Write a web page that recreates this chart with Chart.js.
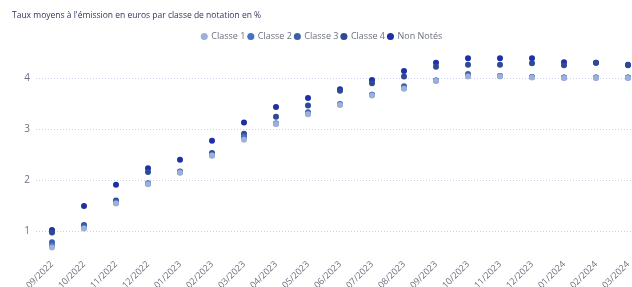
<!DOCTYPE html>
<html><head><meta charset="utf-8">
<script src="https://cdn.jsdelivr.net/npm/chart.js@4/dist/chart.umd.min.js"></script>
<style>
html,body{margin:0;padding:0;background:#fff;overflow:hidden;width:632px;height:287px;}
#wrap{position:relative;width:660px;height:287px;}
</style></head>
<body><div id="wrap"><canvas id="c" width="660" height="287"></canvas></div>
<script>
const categories = ["09/2022","10/2022","11/2022","12/2022","01/2023","02/2023","03/2023","04/2023","05/2023","06/2023","07/2023","08/2023","09/2023","10/2023","11/2023","12/2023","01/2024","02/2024","03/2024"];
const classe1 = [0.68,1.05,1.54,1.92,2.15,2.48,2.79,3.10,3.29,3.47,3.66,3.79,3.94,4.03,4.03,4.01,4.00,4.00,4.00];
const classe2 = [0.72,1.06,1.55,1.93,2.15,2.48,2.84,3.11,3.30,3.48,3.67,3.80,3.95,4.04,4.04,4.02,4.01,4.01,4.01];
const classe3 = [0.78,1.10,1.57,1.94,2.16,2.50,2.86,3.11,3.33,3.49,3.67,3.84,3.95,4.08,4.04,4.02,4.01,4.01,4.01];
const classe4 = [0.97,1.12,1.60,2.16,2.17,2.53,2.91,3.24,3.46,3.75,3.90,4.03,4.22,4.26,4.26,4.29,4.25,4.30,4.25];
const nonNotes = [1.02,1.49,1.91,2.23,2.40,2.77,3.13,3.43,3.61,3.78,3.96,4.14,4.30,4.39,4.39,4.39,4.31,4.30,4.26];
const seriesNames = ["Classe 1","Classe 2","Classe 3","Classe 4","Non Notés"];
const yTicks = [1,2,3,4];

const colors = ["#9fb0d8","#4272c4","#3a5fae","#2c4a96","#1f2fa8"];
const seriesData = [classe1,classe2,classe3,classe4,nonNotes];

const titlePlugin = {
  id:'titleText',
  afterDraw(chart){
    const ctx = chart.ctx;
    ctx.save();
    ctx.font = '8.5px "Open Sans", sans-serif';
    ctx.fillStyle = '#2e3a5c';
    ctx.textBaseline = 'middle';
    ctx.fillText("Taux moyens à l'émission en euros par classe de notation en %", 12, 16);
    ctx.restore();
  }
};

new Chart(document.getElementById('c'), {
  type:'line',
  data:{
    labels: categories,
    datasets: seriesNames.map((n,i)=>({
      label:n, data:seriesData[i], showLine:false,
      pointRadius:3, pointHoverRadius:3,
      pointBackgroundColor:colors[i], pointBorderColor:colors[i],
      backgroundColor:colors[i], borderColor:colors[i], pointBorderWidth:0
    }))
  },
  options:{
    responsive:false, animation:false,
    layout:{padding:{left:0,right:16,top:29,bottom:0}},
    plugins:{
      title:{display:false},
      tooltip:{enabled:false},
      legend:{
        display:true, position:'top', align:'center',
        labels:{usePointStyle:true, pointStyle:'circle', boxWidth:5, boxHeight:5, padding:3,
          color:'#6b7080', font:{size:9, family:'"Open Sans", sans-serif'}}
      }
    },
    scales:{
      x:{
        offset:true,
        grid:{display:false}, border:{display:false},
        ticks:{maxRotation:45, minRotation:45, autoSkip:false, padding:-1,
          color:'#6b7080', font:{size:9, family:'"Open Sans", sans-serif'}},
        afterFit(s){ s.height = 35; }
      },
      y:{
        min:0.59, max:4.53,
        border:{display:false, dash:[1,2]},
        grid:{color:'#c9cfe8', lineWidth:1, drawTicks:false},
        afterBuildTicks(s){ s.ticks = yTicks.map(v=>({value:v})); },
        ticks:{padding:6, color:'#6b7080', font:{size:10, family:'"Open Sans", sans-serif'}},
        afterFit(s){ s.width = 36; }
      }
    }
  },
  plugins:[titlePlugin]
});
</script></body></html>
